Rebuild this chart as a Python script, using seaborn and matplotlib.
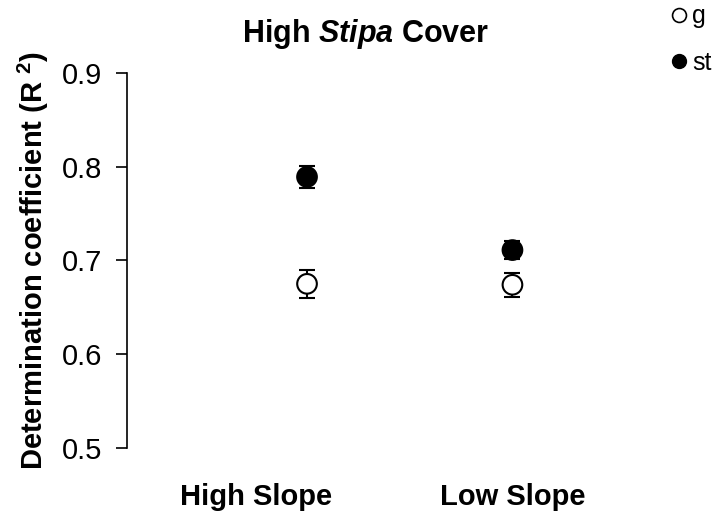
import pandas as pd
import seaborn as sns
import matplotlib.pyplot as plt
from matplotlib.lines import Line2D

# data
slopes = ['High Slope', 'Low Slope']
slope_pos = [1.0, 2.0]
point_pos = [1.2, 2.0]
groups = ['g', 'st']
r2_g = [0.675, 0.674]
err_g = [0.015, 0.013]
r2_st = [0.789, 0.711]
err_st = [0.012, 0.010]

df = pd.DataFrame({
    'x': point_pos * 2,
    'r2': r2_g + r2_st,
    'err': err_g + err_st,
    'group': ['g'] * 2 + ['st'] * 2,
})

sns.set_style('white')
plt.rcParams['font.family'] = ['Liberation Sans', 'DejaVu Sans']
plt.rcParams['mathtext.fontset'] = 'custom'
plt.rcParams['mathtext.rm'] = 'Liberation Sans:bold'
plt.rcParams['mathtext.it'] = 'Liberation Sans:italic:bold'
plt.rcParams['mathtext.bf'] = 'Liberation Sans:bold'
for key in ['text.color', 'axes.labelcolor', 'xtick.color', 'ytick.color']:
    plt.rcParams[key] = 'black'

fig = plt.figure(figsize=(7.15, 5.2), dpi=100)
ax = fig.add_axes([0.178, 0.1385, 0.668, 0.7215])

# error bars first, markers on top
for grp in groups:
    sub = df[df['group'] == grp]
    ax.errorbar(sub['x'], sub['r2'], yerr=sub['err'], fmt='none', ecolor='black',
                elinewidth=1.5, capsize=6, capthick=1.5, zorder=2)

sns.scatterplot(ax=ax, data=df, x='x', y='r2', hue='group', style='group',
                palette={'g': 'white', 'st': 'black'}, markers={'g': 'o', 'st': 'o'},
                s=200, edgecolor='black', linewidth=1.5, zorder=3, legend=False)

ax.set_xlim(0.5, 2.36)
ax.set_ylim(0.5, 0.9)
ax.set_yticks([0.5, 0.6, 0.7, 0.8, 0.9])
ax.set_yticklabels(['0.5', '0.6', '0.7', '0.8', '0.9'], fontsize=21)
ax.set_xticks(slope_pos)
ax.set_xticklabels(slopes, fontsize=21, fontweight='bold')
ax.tick_params(axis='y', direction='out', length=8, width=1.2, left=True, pad=10)
ax.tick_params(axis='x', length=0, pad=25)
for side in ['top', 'right', 'bottom']:
    ax.spines[side].set_visible(False)
ax.spines['left'].set_linewidth(1.2)
ax.spines['left'].set_color('black')

ax.set_xlabel('')
ax.set_ylabel(r'Determination coefficient (R $^{2}$)', fontsize=21, fontweight='bold', labelpad=8)
ax.set_title(r'High $\it{Stipa}$ Cover', fontsize=22, fontweight='bold', pad=22)

# legend outside top right
handles = [Line2D([], [], marker='o', linestyle='none', markerfacecolor='white',
                  markeredgecolor='black', markersize=10, markeredgewidth=1.2),
           Line2D([], [], marker='o', linestyle='none', markerfacecolor='black',
                  markeredgecolor='black', markersize=10)]
fig.legend(handles, groups, loc='upper left', bbox_to_anchor=(0.9, 1.035), frameon=False,
           fontsize=18, handletextpad=0.05, labelspacing=0.9, handlelength=1.0)

plt.savefig('out.png', dpi=100)
